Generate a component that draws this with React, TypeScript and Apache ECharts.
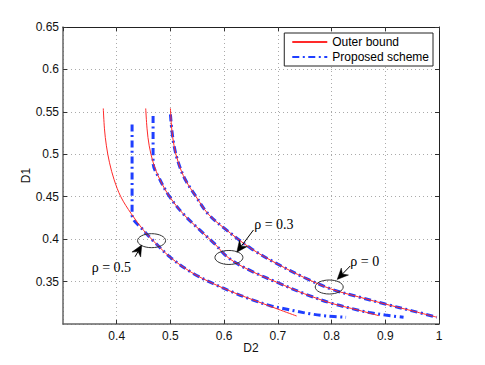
import React, { useEffect, useRef } from "react";
import * as echarts from "echarts";

// ---- data ----
const xTicks = [0.3, 0.4, 0.5, 0.6, 0.7, 0.8, 0.9, 1.0];
const yTicks = [0.3, 0.35, 0.4, 0.45, 0.5, 0.55, 0.6, 0.65];

const outerRho05 = [
  [0.375, 0.554], [0.3772, 0.53], [0.3808, 0.51], [0.3866, 0.49], [0.3952, 0.47],
  [0.4076, 0.45], [0.427, 0.43], [0.4505, 0.41], [0.465, 0.4], [0.5, 0.3785],
  [0.54, 0.3605], [0.58, 0.3475], [0.62, 0.3365], [0.66, 0.327], [0.7, 0.3175],
  [0.735, 0.3094],
];
const proposedRho05 = [
  [0.4286, 0.535], [0.4286, 0.4287], [0.4505, 0.41], [0.465, 0.4], [0.5, 0.3785],
  [0.54, 0.3605], [0.58, 0.3475], [0.62, 0.3365], [0.65, 0.329], [0.686, 0.3215],
  [0.71, 0.3183], [0.735, 0.315], [0.76, 0.312], [0.79, 0.3095], [0.827, 0.308],
];
const outerRho03 = [
  [0.454, 0.554], [0.4565, 0.53], [0.4605, 0.51], [0.468, 0.49], [0.4805, 0.47],
  [0.4985, 0.45], [0.5235, 0.43], [0.556, 0.41], [0.5815, 0.395], [0.609, 0.3775],
  [0.65, 0.3625], [0.7, 0.3487], [0.75, 0.3355], [0.8, 0.3244], [0.85, 0.3163],
  [0.888, 0.3098],
];
const proposedRho03 = [
  [0.4677, 0.545], [0.4677, 0.4905], [0.4805, 0.47], [0.4985, 0.45], [0.5235, 0.43],
  [0.556, 0.41], [0.5815, 0.395], [0.609, 0.3775], [0.65, 0.3625], [0.7, 0.3487],
  [0.75, 0.3355], [0.8, 0.3244], [0.85, 0.3163], [0.87, 0.3135], [0.9, 0.3105],
  [0.934, 0.308],
];
const outerRho0 = [
  [0.5, 0.554], [0.5024, 0.53], [0.5068, 0.51], [0.5148, 0.49], [0.5278, 0.47],
  [0.5478, 0.45], [0.5698, 0.43], [0.6, 0.413], [0.65, 0.389], [0.7, 0.3705],
  [0.75, 0.3545], [0.8, 0.341], [0.85, 0.332], [0.9, 0.3235], [0.95, 0.3155],
  [0.996, 0.308],
];
const proposedRho0 = [
  [0.5, 0.547], [0.5024, 0.53], [0.5068, 0.51], [0.5148, 0.49], [0.5278, 0.47],
  [0.5478, 0.45], [0.5698, 0.43], [0.6, 0.413], [0.65, 0.389], [0.7, 0.3705],
  [0.75, 0.3545], [0.8, 0.341], [0.85, 0.332], [0.9, 0.3235], [0.95, 0.3155],
  [0.996, 0.308],
];

// annotations (data coordinates)
const rhoLabels = ["ρ = 0.5", "ρ = 0.3", "ρ = 0"];
const ellipseCenters = [[0.4649, 0.3982], [0.6089, 0.3784], [0.7956, 0.3436]];
const labelAnchors = [[0.3535, 0.366], [0.6559, 0.4173], [0.8348, 0.3734]];
const arrowTails = [[0.4342, 0.3793], [0.6546, 0.4108], [0.8348, 0.3684]];
const arrowTips = [[0.4466, 0.3931], [0.6236, 0.3846], [0.8105, 0.3525]];

const SANS = "Liberation Sans, Arial, sans-serif";
const SERIF = "Liberation Serif, Times New Roman, serif";
const RED = "#ff2a2a";
const BLUE = "#1f3fff";
const DASHDOT = [7, 3.5, 2, 3.5];

export default function App() {
  const ref = useRef<HTMLDivElement>(null);
  useEffect(() => {
    if (!ref.current) return;
    const chart = echarts.init(ref.current, null, { renderer: "svg" });

    const annData = ellipseCenters.map((c, i) => [
      c[0], c[1], labelAnchors[i][0], labelAnchors[i][1],
      arrowTails[i][0], arrowTails[i][1], arrowTips[i][0], arrowTips[i][1],
    ]);

    const blueLine = (data: number[][]) => ({
      name: "Proposed scheme",
      type: "line",
      data,
      symbol: "none",
      smooth: 0.35,
      lineStyle: { color: BLUE, width: 3, type: DASHDOT },
      itemStyle: { color: BLUE },
      z: 2,
    });
    const redLine = (data: number[][]) => ({
      name: "Outer bound",
      type: "line",
      data,
      symbol: "none",
      smooth: 0.35,
      lineStyle: { color: RED, width: 1 },
      itemStyle: { color: RED },
      z: 3,
    });

    const baseX = {
      type: "value",
      min: xTicks[0],
      max: xTicks[xTicks.length - 1],
      interval: 0.1,
    };
    const baseY = {
      type: "value",
      min: yTicks[0],
      max: yTicks[yTicks.length - 1],
      interval: 0.05,
    };

    chart.setOption({
      animation: false,
      backgroundColor: "#fff",
      grid: { left: 63, right: 46, top: 27, bottom: 41, containLabel: false },
      legend: {
        data: ["Outer bound", "Proposed scheme"],
        orient: "vertical",
        right: 52,
        top: 33,
        itemWidth: 35,
        itemHeight: 12,
        itemGap: 3,
        padding: [3, 4, 3, 7],
        borderColor: "#222",
        borderWidth: 1,
        borderRadius: 0,
        backgroundColor: "#fff",
        itemStyle: { opacity: 0 },
        textStyle: { fontFamily: SANS, fontSize: 12, color: "#000" },
      },
      xAxis: [
        {
          ...baseX,
          position: "bottom",
          name: "D2",
          nameLocation: "middle",
          nameGap: 18,
          nameMoveOverlap: false,
          nameTextStyle: { fontFamily: SANS, fontSize: 12, color: "#111" },
          axisLine: { show: true, onZero: false, lineStyle: { color: "#666", width: 1.5 } },
          axisTick: { show: true, inside: true, length: 4, lineStyle: { color: "#333" } },
          axisLabel: { showMinLabel: false, margin: 6, fontFamily: SANS, fontSize: 12, color: "#111" },
          splitLine: { show: true, lineStyle: { color: "#aaa", type: [1, 3], width: 1 } },
        },
        {
          ...baseX,
          position: "top",
          axisLine: { show: true, onZero: false, lineStyle: { color: "#222", width: 1 } },
          axisTick: { show: true, inside: true, length: 4, lineStyle: { color: "#333" } },
          axisLabel: { show: false },
          splitLine: { show: false },
        },
      ],
      yAxis: [
        {
          ...baseY,
          position: "left",
          name: "D1",
          nameLocation: "middle",
          nameGap: 31,
          nameMoveOverlap: false,
          nameTextStyle: { fontFamily: SANS, fontSize: 12, color: "#111" },
          axisLine: { show: true, onZero: false, lineStyle: { color: "#666", width: 1.5 } },
          axisTick: { show: true, inside: true, length: 4, lineStyle: { color: "#333" } },
          axisLabel: { showMinLabel: false, margin: 4, fontFamily: SANS, fontSize: 12, color: "#111" },
          splitLine: { show: true, lineStyle: { color: "#aaa", type: [1, 3], width: 1 } },
        },
        {
          ...baseY,
          position: "right",
          axisLine: { show: true, onZero: false, lineStyle: { color: "#222", width: 1 } },
          axisTick: { show: true, inside: true, length: 4, lineStyle: { color: "#333" } },
          axisLabel: { show: false },
          splitLine: { show: false },
        },
      ],
      series: [
        blueLine(proposedRho05),
        blueLine(proposedRho03),
        blueLine(proposedRho0),
        redLine(outerRho05),
        redLine(outerRho03),
        redLine(outerRho0),
        {
          type: "custom",
          name: "annotations",
          coordinateSystem: "cartesian2d",
          clip: false,
          z: 5,
          silent: true,
          data: annData,
          encode: { x: 0, y: 1 },
          renderItem: (params: any, api: any) => {
            const i = params.dataIndex;
            const c = api.coord([api.value(0), api.value(1)]);
            const t = api.coord([api.value(2), api.value(3)]);
            const a0 = api.coord([api.value(4), api.value(5)]);
            const a1 = api.coord([api.value(6), api.value(7)]);
            const dx = a1[0] - a0[0];
            const dy = a1[1] - a0[1];
            const len = Math.hypot(dx, dy) || 1;
            const ux = dx / len, uy = dy / len;
            const px = -uy, py = ux;
            const headLen = 11, headW = 5, notch = 7.5;
            const bx = a1[0] - ux * headLen, by = a1[1] - uy * headLen;
            const nx = a1[0] - ux * notch, ny = a1[1] - uy * notch;
            return {
              type: "group",
              children: [
                {
                  type: "ellipse",
                  shape: { cx: c[0], cy: c[1], rx: 14, ry: 7 },
                  style: { fill: "none", stroke: "#333", lineWidth: 1 },
                },
                {
                  type: "line",
                  shape: { x1: a0[0], y1: a0[1], x2: nx, y2: ny },
                  style: { stroke: "#000", lineWidth: 1 },
                },
                {
                  type: "polygon",
                  shape: {
                    points: [
                      [a1[0], a1[1]],
                      [bx + px * headW, by + py * headW],
                      [nx, ny],
                      [bx - px * headW, by - py * headW],
                    ],
                  },
                  style: { fill: "#000", stroke: "#000", lineWidth: 0.5 },
                },
                {
                  type: "text",
                  x: t[0],
                  y: t[1],
                  style: {
                    text: rhoLabels[i],
                    fontFamily: SERIF,
                    fontSize: 14,
                    fill: "#000",
                    align: "left",
                    verticalAlign: "middle",
                  },
                },
              ],
            };
          },
        },
      ],
    });
    return () => chart.dispose();
  }, []);
  return (
    <div
      ref={ref}
      style={{ position: "fixed", left: 0, top: 0, width: 485, height: 365, background: "#fff" }}
    />
  );
}
